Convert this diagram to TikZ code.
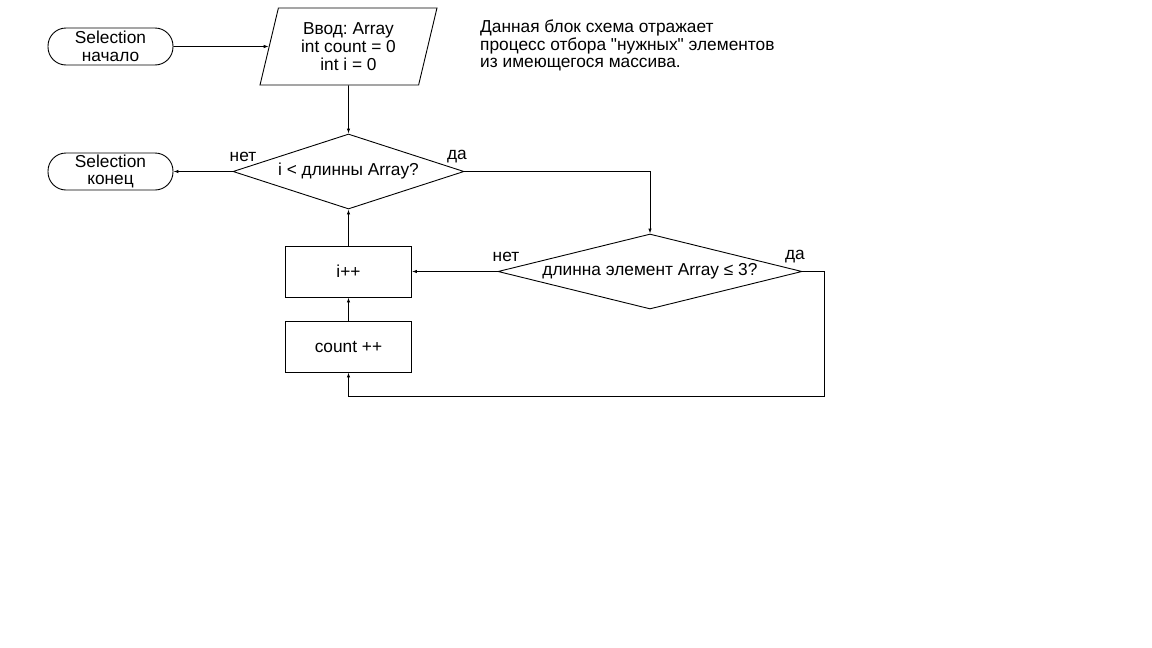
\documentclass[tikz,border=0pt]{standalone}
\usepackage{fontspec}
\setmainfont{Liberation Sans}
\newfontfamily\plainfont{Liberation Sans}
\usetikzlibrary{shapes.geometric,arrows.meta}
\begin{document}
\frenchspacing
\begin{tikzpicture}[x=1pt,y=-1pt,
  every node/.style={font=\fontsize{17.3}{17.8}\selectfont},
  base/.style={draw=black,line width=0.9pt,inner sep=0pt,align=center},
  term/.style={base,rectangle,rounded corners=18pt,minimum width=125pt,minimum height=37pt},
  proc/.style={base,rectangle,minimum width=126pt,minimum height=51pt},
  io/.style={base,trapezium,trapezium left angle=75.4,trapezium right angle=104.6,trapezium stretches=true,minimum width=177pt,minimum height=77pt},
  dec/.style={base,diamond},
  lbl/.style={inner sep=0pt},
  conn/.style={line width=0.9pt,-{Latex[length=5pt,width=3.5pt]}}]
\useasboundingbox (0,0) rectangle (1152,648);
\fill[white] (0,0) rectangle (1152,648);
\node[term] (start) at (110.5,46.5) {Selection\\начало};
\node[io] (input) at (348.5,46.5) {Ввод: Array\\int count = 0\\int i = 0};
\node[dec,shape aspect=3.08,minimum width=231pt,minimum height=75pt] (d1) at (348.5,171.5) {i < длинны Array?};
\node[term] (end) at (110.5,171.5) {Selection\\конец};
\node[dec,shape aspect=4.05,minimum width=304pt,minimum height=75pt] (d2) at (650,271.5) {длинна элемент Array ≤ 3?};
\node[proc] (inc) at (348.5,271.5) {i++};
\node[proc] (cnt) at (348.5,346.5) {count ++};
\node[lbl] (no1) at (243,157) {нет};
\node[lbl] (yes1) at (457,157) {да};
\node[lbl] (no2) at (506,257) {нет};
\node[lbl] (yes2) at (795,257) {да};
\node[lbl,anchor=north west,align=left,font=\plainfont\fontsize{17.3}{17.5}\selectfont] (note) at (480,20) {Данная блок схема отражает\\процесс отбора "нужных" элементов\\из имеющегося массива.};
\coordinate (c1) at (824,396.5);
\draw[conn] (start.east) -- (input.west);
\draw[conn] (input.south) -- (d1.north);
\draw[conn] (d1.west) -- (end.east);
\draw[conn] (d1.east) -| (d2.north);
\draw[conn] (d2.west) -- (inc.east);
\draw[conn] (d2.east) -| (c1) -| (cnt.south);
\draw[conn] (cnt.north) -- (inc.south);
\draw[conn] (inc.north) -- (d1.south);
\end{tikzpicture}
\end{document}
